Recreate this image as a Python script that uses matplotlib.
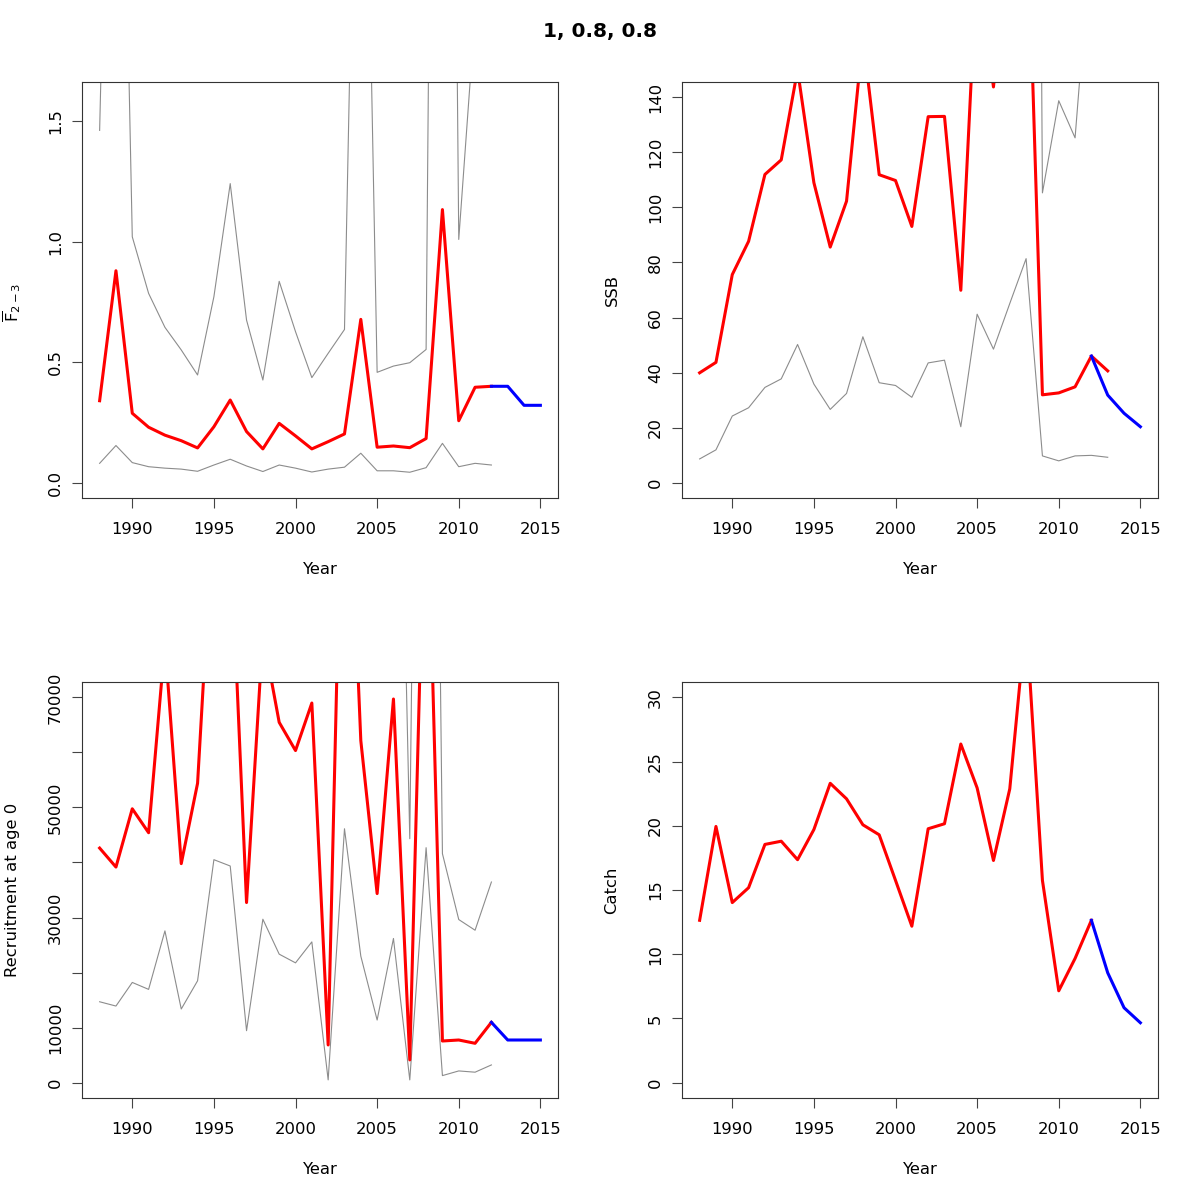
import matplotlib
matplotlib.use("Agg")
import matplotlib.pyplot as plt

plt.rcParams['font.family'] = ['DejaVu Sans']
plt.rcParams['mathtext.default'] = 'regular'

years = list(range(1988, 2013))
years_ssb = list(range(1988, 2014))
years_fc = [2012, 2013, 2014, 2015]

# Mean F (ages 2-3)
f_est = [0.340, 0.880, 0.288, 0.230, 0.197, 0.174, 0.144, 0.232, 0.343, 0.212,
         0.140, 0.246, 0.194, 0.140, 0.170, 0.202, 0.678, 0.147, 0.152, 0.145,
         0.183, 1.134, 0.257, 0.396, 0.400]
f_low = [0.080, 0.154, 0.083, 0.066, 0.060, 0.056, 0.047, 0.073, 0.097, 0.069,
         0.046, 0.073, 0.060, 0.044, 0.056, 0.064, 0.122, 0.049, 0.049, 0.043,
         0.062, 0.163, 0.066, 0.080, 0.073]
f_up = [1.463, 4.3, 1.021, 0.786, 0.645, 0.551, 0.447, 0.772, 1.242, 0.675,
        0.426, 0.836, 0.627, 0.436, 0.537, 0.636, 4.0, 0.458, 0.484, 0.498,
        0.553, 8.5, 1.010, 1.95, 2.0]
f_fc = [0.400, 0.400, 0.321, 0.321]

# SSB
ssb_est = [39.9, 43.7, 75.6, 87.7, 112.0, 117.3, 150.0, 109.0, 85.6, 102.3,
           162.0, 111.9, 109.8, 93.1, 133.0, 133.1, 69.9, 190.0, 143.8, 200.0,
           224.0, 31.9, 32.6, 34.8, 46.0, 40.6]
ssb_low = [8.6, 11.9, 24.2, 27.2, 34.6, 37.7, 50.2, 35.8, 26.6, 32.4,
           53.0, 36.3, 35.3, 31.0, 43.5, 44.5, 20.3, 61.2, 48.5, 65.1,
           81.4, 9.7, 7.9, 9.7, 9.9, 9.2]
ssb_up = [190, 170, 235, 280, 365, 365, 450, 330, 275, 325,
          500, 345, 340, 280, 405, 400, 245, 590, 430, 620,
          1000, 105.3, 138.8, 125.3, 200, 180]
ssb_fc = [46.0, 31.8, 25.2, 20.3]

# Recruitment at age 0
rec_est = [42620, 39170, 49760, 45410, 80000, 39790, 54400, 106000, 101000, 32720,
           81500, 65470, 60340, 68980, 6840, 133000, 62150, 34350, 69710, 4120,
           118000, 7560, 7740, 7140, 10950]
rec_low = [14690, 13910, 18200, 16940, 27570, 13370, 18500, 40510, 39360, 9430,
           29690, 23340, 21760, 25570, 490, 46130, 22980, 11370, 26190, 490,
           42690, 1270, 2120, 1890, 3210]
rec_up = [125000, 110000, 135000, 120000, 235000, 118000, 160000, 280000, 255000, 113000,
          225000, 185000, 170000, 185000, 95000, 380000, 170000, 105000, 179000, 44320,
          300000, 41600, 29630, 27690, 36450]
rec_fc = [10950, 7740, 7740, 7740]

# Catch
catch_est = [12.64, 19.95, 14.02, 15.18, 18.55, 18.80, 17.36, 19.71, 23.31, 22.10,
             20.08, 19.30, 15.75, 12.18, 19.77, 20.16, 26.37, 22.95, 17.30, 22.88,
             36.2, 15.75, 7.15, 9.67, 12.64]
catch_fc = [12.64, 8.55, 5.83, 4.66]

xticks = [1990, 1995, 2000, 2005, 2010, 2015]

fig = plt.figure(figsize=(12, 12), dpi=100)
fig.text(0.5, 1 - 32 / 1200, "1, 0.8, 0.8", ha='center', va='center',
         fontsize=14.5, fontweight='bold')

W = 476 / 1200
H = 416 / 1200
positions = {
    'tl': [82 / 1200, 1 - 498 / 1200, W, H],
    'tr': [682 / 1200, 1 - 498 / 1200, W, H],
    'bl': [82 / 1200, 1 - 1098 / 1200, W, H],
    'br': [682 / 1200, 1 - 1098 / 1200, W, H],
}

RED = '#ff0000'
BLUE = '#0000ff'
GRAY = '#8c8c8c'
LW = 2.2


def style(ax, ylim, yticks, yticklabels, ylabel, label_y=0.5):
    ax.set_xlim(1986.92, 2016.08)
    ax.set_ylim(*ylim)
    ax.set_xticks(xticks)
    ax.set_xticklabels([str(t) for t in xticks])
    ax.set_yticks(yticks)
    ax.set_yticklabels(yticklabels, rotation=90, va='center')
    ax.tick_params(axis='both', direction='out', length=7.2, width=0.8,
                   labelsize=11.8, color='#444444')
    ax.tick_params(axis='x', pad=10)
    ax.tick_params(axis='y', pad=6.5)
    for s in ax.spines.values():
        s.set_linewidth(0.8)
        s.set_color('#333333')
    ax.set_xlabel('Year', fontsize=11.8)
    ax.xaxis.set_label_coords(0.5, -0.154)
    ax.xaxis.label.set_va('top')
    ax.set_ylabel(ylabel, fontsize=11.8)
    ax.yaxis.set_label_coords(-0.147, label_y)
    ax.yaxis.label.set_va('center')


ax = fig.add_axes(positions['tl'])
ax.plot(years, f_low, color=GRAY, lw=0.8)
ax.plot(years, f_up, color=GRAY, lw=0.8)
ax.plot(years, f_est, color=RED, lw=LW)
ax.plot(years_fc, f_fc, color=BLUE, lw=LW)
style(ax, (-0.064, 1.664), [0, 0.5, 1.0, 1.5], ['0.0', '0.5', '1.0', '1.5'],
      r'$\overline{F}_{2-3}$', label_y=0.47)

ax = fig.add_axes(positions['tr'])
ax.plot(years_ssb, ssb_low, color=GRAY, lw=0.8)
ax.plot(years_ssb, ssb_up, color=GRAY, lw=0.8)
ax.plot(years_ssb, ssb_est, color=RED, lw=LW)
ax.plot(years_fc, ssb_fc, color=BLUE, lw=LW)
style(ax, (-5.6, 145.6), list(range(0, 141, 20)),
      [str(v) for v in range(0, 141, 20)], 'SSB')

ax = fig.add_axes(positions['bl'])
ax.plot(years, rec_low, color=GRAY, lw=0.8)
ax.plot(years, rec_up, color=GRAY, lw=0.8)
ax.plot(years, rec_est, color=RED, lw=LW)
ax.plot(years_fc, rec_fc, color=BLUE, lw=LW)
rticks = list(range(0, 70001, 10000))
rlabels = ['0', '10000', '', '30000', '', '50000', '', '70000']
style(ax, (-2800, 72800), rticks, rlabels, 'Recruitment at age 0')

ax = fig.add_axes(positions['br'])
ax.plot(years, catch_est, color=RED, lw=LW)
ax.plot(years_fc, catch_fc, color=BLUE, lw=LW)
style(ax, (-1.2, 31.2), [0, 5, 10, 15, 20, 25, 30],
      ['0', '5', '10', '15', '20', '25', '30'], 'Catch')

fig.savefig('out.png', dpi=100)
